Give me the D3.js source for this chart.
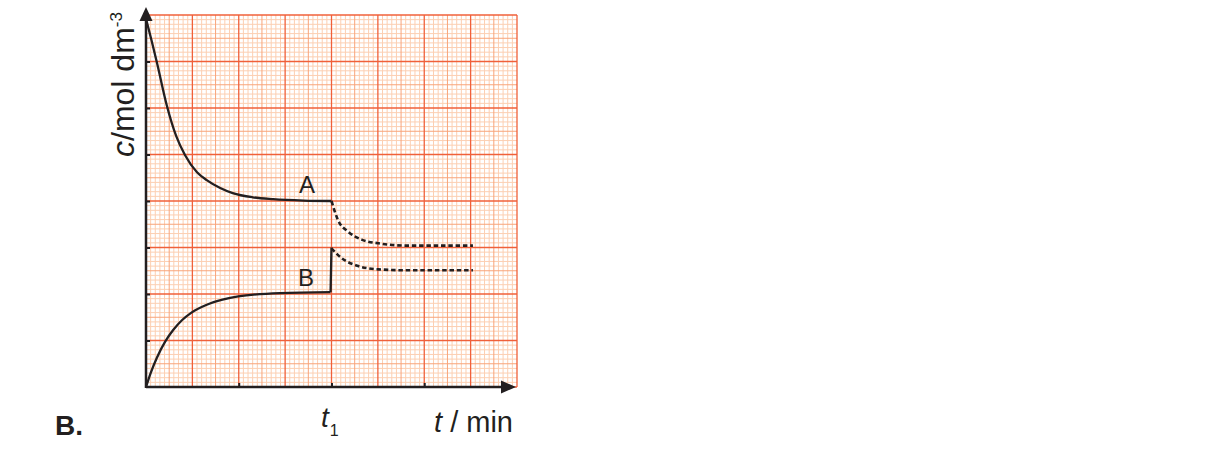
<!DOCTYPE html>
<html>
<head>
<meta charset="utf-8">
<script src="https://cdn.jsdelivr.net/npm/d3@7"></script>
<style>
  html, body { margin: 0; padding: 0; background: #ffffff; }
  svg { display: block; }
  text { font-family: "Liberation Sans", Arial, Helvetica, sans-serif; fill: #231f20; }
</style>
</head>
<body>
<svg id="chart" width="1216" height="464"></svg>
<script>
// ---- data (t in grid units, c in grid units) ----
const curveA = [[0, 7.92], [0.12, 7.45], [0.23, 7.0], [0.45, 6.05], [0.65, 5.4], [0.84, 4.99], [1.1, 4.62], [1.31, 4.45], [1.6, 4.28], [1.87, 4.17], [2.3, 4.08], [2.74, 4.04], [3.4, 4.01], [4.0, 4.0]];
const curveB = [[0, 0], [0.1, 0.3], [0.23, 0.62], [0.41, 0.97], [0.59, 1.23], [0.78, 1.44], [0.98, 1.6], [1.31, 1.77], [1.65, 1.88], [1.99, 1.95], [2.89, 2.02], [3.98, 2.04]];
const jumpB = [[3.98, 2.04], [4.0, 3.0]];
const dashedA = [[4.0, 4.0], [4.14, 3.59], [4.36, 3.34], [4.65, 3.17], [5.01, 3.09], [5.65, 3.04], [7.05, 3.04]];
const dashedB = [[4.0, 2.98], [4.22, 2.77], [4.58, 2.6], [5.01, 2.53], [5.65, 2.51], [7.05, 2.51]];
const curveLabels = [{ name: "A", t: 3.47, c: 4.17 }, { name: "B", t: 3.45, c: 2.18 }];
const xTicks = [2, 4, 6];
const yTicks = [1, 2, 3, 4, 5, 6, 7];
const xTickLabel = { t: 4, main: "t", sub: "1" };
const yAxisTitle = { italic: "c", rest: "/mol dm", sup: "-3" };
const xAxisTitle = { italic: "t", rest: " / min" };
const panelLabel = "B.";

// ---- scales ----
const svg = d3.select("#chart");
const x = d3.scaleLinear().domain([0, 8]).range([146, 517]);
const y = d3.scaleLinear().domain([0, 8]).range([387, 15]);

// ---- graph paper grid ----
const grid = svg.append("g");
const minor = d3.range(0, 80.5, 1).map(i => i / 10);
function gridLines(vals, color, w) {
  grid.append("g").selectAll("line").data(vals).join("line")
    .attr("x1", d => x(d)).attr("x2", d => x(d))
    .attr("y1", y(0)).attr("y2", y(8))
    .attr("stroke", color).attr("stroke-width", w);
  grid.append("g").selectAll("line").data(vals).join("line")
    .attr("y1", d => y(d)).attr("y2", d => y(d))
    .attr("x1", x(0)).attr("x2", x(8))
    .attr("stroke", color).attr("stroke-width", w);
}
gridLines(minor.filter((d, i) => i % 5 !== 0), "#fccfb2", 1);
gridLines(minor.filter((d, i) => i % 10 === 5), "#f8a47a", 1);
gridLines(d3.range(0, 9), "#f0603a", 1.3);

// ---- axes ----
const ink = "#231f20";
const xAxis = svg.append("g").attr("transform", `translate(0,${y(0)})`)
  .call(d3.axisBottom(x).tickValues(xTicks).tickSizeInner(-4).tickSizeOuter(0).tickFormat(""));
xAxis.select(".domain").remove();
xAxis.selectAll("line").attr("stroke", ink).attr("stroke-width", 2);
const yAxis = svg.append("g").attr("transform", `translate(${x(0)},0)`)
  .call(d3.axisLeft(y).tickValues(yTicks).tickSizeInner(-4).tickSizeOuter(0).tickFormat(""));
yAxis.select(".domain").remove();
yAxis.selectAll("line").attr("stroke", ink).attr("stroke-width", 2);

svg.append("line").attr("x1", x(0)).attr("x2", 503).attr("y1", y(0)).attr("y2", y(0))
  .attr("stroke", ink).attr("stroke-width", 2.5);
svg.append("line").attr("x1", x(0)).attr("x2", x(0)).attr("y1", y(0) + 1).attr("y2", 18)
  .attr("stroke", ink).attr("stroke-width", 2.5);
svg.append("path").attr("d", `M${x(0)},7 L${x(0) - 6.5},21 L${x(0) + 6.5},21 Z`).attr("fill", ink);
svg.append("path").attr("d", `M516,${y(0)} L501,${y(0) - 6.5} L501,${y(0) + 6.5} Z`).attr("fill", ink);

// ---- curves ----
const line = d3.line().x(d => x(d[0])).y(d => y(d[1])).curve(d3.curveMonotoneX);
const straight = d3.line().x(d => x(d[0])).y(d => y(d[1]));
svg.append("path").attr("d", line(curveA)).attr("fill", "none").attr("stroke", ink).attr("stroke-width", 2.3);
svg.append("path").attr("d", line(curveB)).attr("fill", "none").attr("stroke", ink).attr("stroke-width", 2.3);
svg.append("path").attr("d", straight(jumpB)).attr("fill", "none").attr("stroke", ink).attr("stroke-width", 2.3);
svg.append("path").attr("d", line(dashedA)).attr("fill", "none").attr("stroke", ink).attr("stroke-width", 2.6).attr("stroke-dasharray", "4.5,2.8");
svg.append("path").attr("d", line(dashedB)).attr("fill", "none").attr("stroke", ink).attr("stroke-width", 2.6).attr("stroke-dasharray", "4.5,2.8");

svg.append("g").selectAll("text").data(curveLabels).join("text")
  .attr("x", d => x(d.t)).attr("y", d => y(d.c))
  .attr("text-anchor", "middle").attr("font-size", 24).text(d => d.name);

// ---- text labels ----
const tl = svg.append("text").attr("x", 321).attr("y", 427).attr("font-size", 28);
tl.append("tspan").attr("font-style", "italic").text(xTickLabel.main);
tl.append("tspan").attr("font-size", 16).attr("dy", 9).attr("dx", 1).text(xTickLabel.sub);

const xt = svg.append("text").attr("x", 513).attr("y", 432).attr("text-anchor", "end").attr("font-size", 29);
xt.append("tspan").attr("font-style", "italic").text(xAxisTitle.italic);
xt.append("tspan").text(xAxisTitle.rest);

const yt = svg.append("text").attr("transform", "translate(134,157) rotate(-90)").attr("font-size", 32);
yt.append("tspan").attr("font-style", "italic").text(yAxisTitle.italic);
yt.append("tspan").text(yAxisTitle.rest);
yt.append("tspan").attr("font-size", 17).attr("dy", -12).text(yAxisTitle.sup);

svg.append("text").attr("x", 55).attr("y", 435).attr("font-size", 28).attr("font-weight", "bold").text(panelLabel);
</script>
</body>
</html>
